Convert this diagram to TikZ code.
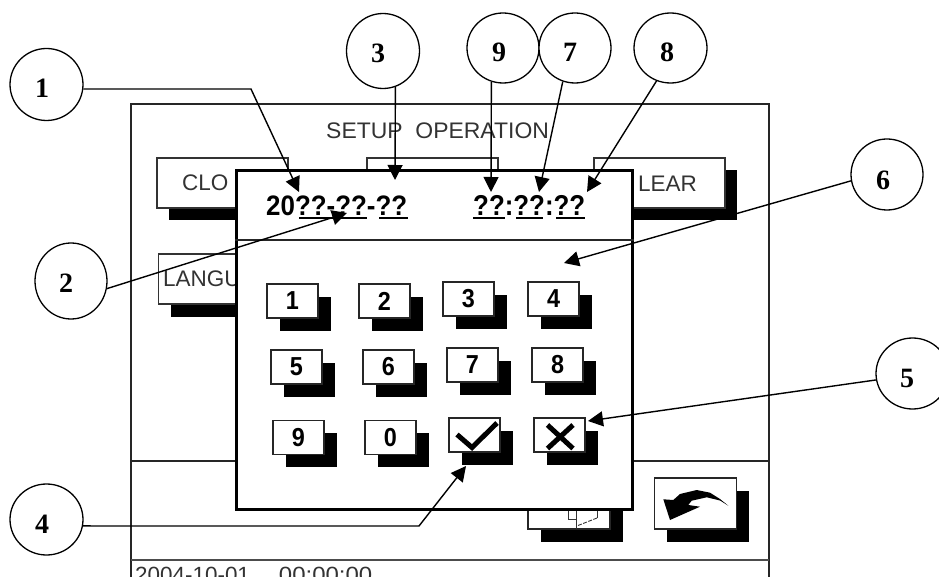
\documentclass[tikz,border=0pt]{standalone}
\usepackage{fontspec}
\usepackage{graphicx}
\setmainfont{Liberation Sans}
\newfontfamily\numfont{Liberation Serif}[BoldFont={Liberation Serif Bold}]
\usetikzlibrary{shapes.geometric,arrows.meta,shadows,calc}
\definecolor{scr}{HTML}{333333}
\tikzset{
  x=1pt,y=-1pt,
  callout/.style={draw=black,line width=1.3pt,ellipse,minimum width=73pt,minimum height=72pt,inner sep=0pt,fill=white},
  callnum/.style={inner sep=0pt,font=\numfont\bfseries\fontsize{28}{28}\selectfont},
  lead/.style={draw=black,line width=1.4pt,line join=miter,-{Triangle[length=15pt,width=15pt]}},
  frameline/.style={draw=black!85,line width=1.3pt},
  bigbtn/.style={draw=black!80,line width=1.2pt,fill=white,rectangle,inner sep=0pt,minimum width=131pt,minimum height=50pt,
    general shadow={fill=black,shadow xshift=12pt,shadow yshift=-12.5pt}},
  keybtn/.style={draw=black!85,line width=1.3pt,fill=white,rectangle,inner sep=0pt,minimum width=51pt,minimum height=34pt,
    font=\bfseries\fontsize{26}{26}\selectfont,
    general shadow={fill=black,shadow xshift=12.5pt,shadow yshift=-12.5pt}},
  iconbtn/.style={draw=black!85,line width=1.2pt,fill=white,rectangle,inner sep=0pt,minimum width=82pt,minimum height=51pt,
    general shadow={fill=black,shadow xshift=12.5pt,shadow yshift=-13pt}},
  scrtext/.style={inner sep=0pt,text=scr,anchor=west,font=\fontsize{22.5}{22.5}\selectfont},
  dlgtext/.style={inner sep=0pt,anchor=west,font=\bfseries\fontsize{27}{27}\selectfont},
  under/.style={draw=black,line width=1.2pt},
  mark stroke/.style={draw=black,line width=5pt,line cap=butt,line join=miter},
}
\begin{document}
\begin{tikzpicture}
\useasboundingbox (0,0) rectangle (939,577);
\clip (0,0) rectangle (939,577);
\fill[white] (0,0) rectangle (939,577);

% screen behind the dialog
\draw[frameline] (131,595) -- (131,104) -- (769,104) -- (769,595);
\draw[frameline] (131,461) -- (769,461);
\draw[draw=black!70,line width=1.6pt] (131,560) -- (769,560);
\node[scrtext] (title) at (326,130.5) {\scalebox{1.02}[1]{SETUP\ \ OPERATION}};
\node[bigbtn] (bclock) at (222.5,183) {};
\node[bigbtn] (bmid) at (432.5,183) {};
\node[bigbtn] (bclear) at (659.5,183) {};
\node[bigbtn] (blang) at (224,279) {};
\node[scrtext] (tclock) at (182,182.5) {CLO};
\node[scrtext,anchor=east] (tclear) at (697,184) {LEAR};
\node[scrtext] (tlang) at (163,279) {LANGU};
\node[iconbtn] (bpage) at (569,503.5) {};
\draw[draw=black!80,line width=.9pt] (568,505) -- (568,519) -- (576,519) (576,505) -- (576,529) (597,505) -- (597,518);
\draw[draw=black!80,line width=.9pt,dashed,dash pattern=on 4pt off 1.5pt] (578,525.5) -- (597,518);
\node[iconbtn] (bback) at (695.5,503.5) {};
\fill[black] (728.3,505.7) -- (720,499) -- (710,492.7) -- (696.7,490) -- (680,494) -- (673.3,500) -- (663.3,499.3) -- (670,520) -- (700,506.7) -- (688.3,505) -- (691.7,500.7) -- (706.7,497.3) -- (720,500.5) -- cycle;
\node[scrtext,font=\fontsize{22}{22}\selectfont] (tdate) at (135,574.5) {\scalebox{1.02}[1]{2004-10-01}\hspace{29pt}\scalebox{1.09}[1]{00:00:00}};

% dialog
\node[draw=black,line width=3pt,fill=white,rectangle,inner sep=0pt,minimum width=396pt,minimum height=338pt] (dlg) at (434.75,340) {};
\draw[draw=black!85,line width=1.1pt] (dlg.west |- 0,240) -- (dlg.east |- 0,240);
\node[dlgtext] (tdate2) at (266,205.5) {\resizebox{141pt}{!}{\scalebox{.92}[1]{20??-??-??}}};
\node[dlgtext] (ttime) at (473,205.5) {\resizebox{112pt}{!}{\scalebox{.9}[1]{??:??:??}}};
\draw[under] (299,218) -- (367,218) (379,218) -- (408,218);
\draw[under] (473,218) -- (505,218) (516,218) -- (543,218) (556,218) -- (585,218);

% keypad
\node[keybtn] (k1) at (292.5,301) {\scalebox{.9}[1]{1}};
\node[keybtn] (k2) at (384.5,301) {\scalebox{.9}[1]{2}};
\node[keybtn] (k3) at (468.5,299) {\scalebox{.9}[1]{3}};
\node[keybtn] (k4) at (553.5,299) {\scalebox{.9}[1]{4}};
\node[keybtn] (k5) at (296.5,367) {\scalebox{.9}[1]{5}};
\node[keybtn] (k6) at (388.5,367) {\scalebox{.9}[1]{6}};
\node[keybtn] (k7) at (472.5,365) {\scalebox{.9}[1]{7}};
\node[keybtn] (k8) at (557.5,365) {\scalebox{.9}[1]{8}};
\node[keybtn] (k9) at (298.5,437.5) {\scalebox{.9}[1]{9}};
\node[keybtn] (k0) at (390.5,437.5) {\scalebox{.9}[1]{0}};
\node[keybtn] (kok) at (474.5,435) {};
\node[keybtn] (kno) at (559.5,435) {};
\draw[mark stroke] (457,434.5) -- (472,447.5) -- (497,423);
\draw[mark stroke] (547.5,425) -- (573,448.5) (573,425) -- (547.5,448.5);

% callouts
\node[callout] (n1) at (46.5,84.5) {};
\node[callout,minimum height=75pt] (n3) at (383,51) {};
\node[callout,minimum height=70pt,minimum width=72pt] (n9) at (503,48) {};
\node[callout,minimum height=70pt,minimum width=72pt] (n7) at (575,48) {};
\node[callout,minimum height=70pt] (n8) at (670.5,48) {};
\node[callout,minimum height=71pt,minimum width=72pt] (n6) at (887,174.5) {};
\node[callout,minimum height=71pt] (n5) at (912.5,373.5) {};
\node[callout,minimum height=76pt,minimum width=72pt] (n2) at (71,281) {};
\node[callout,minimum height=71pt] (n4) at (46.5,519.5) {};
\node[callnum] (l1) at (42,88) {1};
\node[callnum] (l2) at (66,283) {2};
\node[callnum] (l3) at (378,53) {3};
\node[callnum] (l4) at (42,524) {4};
\node[callnum] (l5) at (907,378) {5};
\node[callnum] (l6) at (883,180) {6};
\node[callnum] (l7) at (570,52) {7};
\node[callnum] (l8) at (667,52) {8};
\node[callnum] (l9) at (499,52) {9};

% connectors
\coordinate (b1) at (251,89);
\coordinate (t1) at (299,192);
\coordinate (t2) at (347,213);
\coordinate (t3) at (395,180);
\coordinate (b4) at (419,526);
\coordinate (t4) at (466,466);
\coordinate (t5) at (588,421);
\coordinate (t6) at (564,263);
\coordinate (t7) at (539,192);
\coordinate (t8) at (587,192);
\coordinate (t9) at (491,192);
\draw[lead] (n1.-7) -- (b1) -- (t1);
\draw[lead] (n2.-12) -- (t2);
\draw[lead] (n3.-71) -- (t3);
\draw[lead] (n4.-10) -- (b4) -- (t4);
\draw[lead] (n5.-170) -- (t5);
\draw[lead] (n6.-170) -- (t6);
\draw[lead] (n7.-110) -- (t7);
\draw[lead] (n8.-113) -- (t8);
\draw[lead] (n9.-109) -- (t9);
\end{tikzpicture}
\end{document}
